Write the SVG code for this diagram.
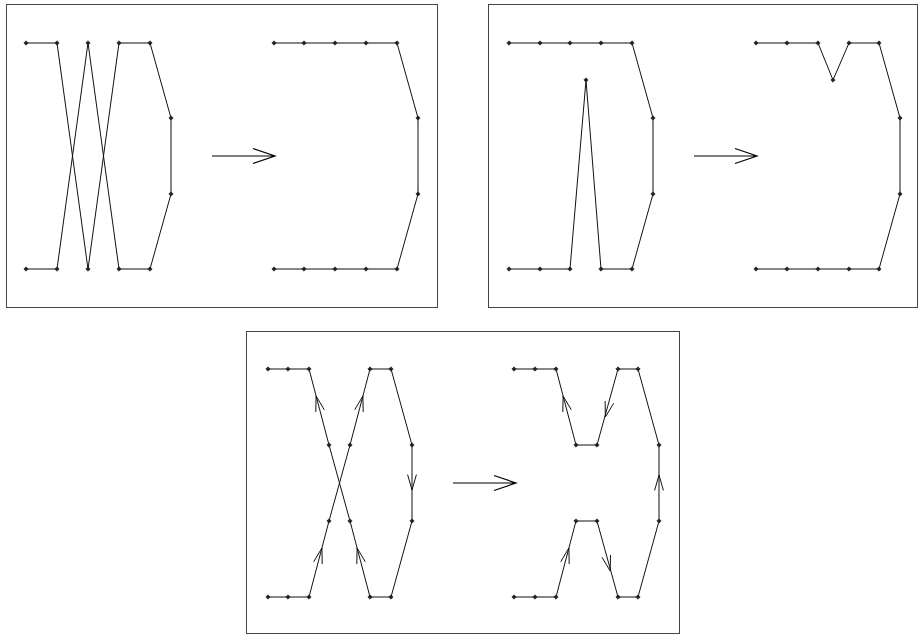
<svg xmlns="http://www.w3.org/2000/svg" xmlns:xlink="http://www.w3.org/1999/xlink" width="921" height="635" viewBox="0 0 921 635">
<style>
.frame{fill:none;stroke:#444;stroke-width:1}
.edge{fill:none;stroke:#111;stroke-width:1;stroke-linejoin:miter}
.head{fill:none;stroke:#111;stroke-width:1}
.big{fill:none;stroke:#000;stroke-width:1.2}
</style>
<defs>
<path id="dot" d="M0,-2.2 L2.2,0 L0,2.2 L-2.2,0Z" fill="#222" stroke="#222" stroke-width="0.6"/>
</defs>
<rect width="921" height="635" fill="#fff"/>
<g id="frames">
<rect class="frame" x="6.5" y="4.5" width="431" height="303"/>
<rect class="frame" x="488.5" y="4.5" width="429" height="303"/>
<rect class="frame" x="246.5" y="331.5" width="433" height="302"/>
</g>
<g id="connectors">
<path class="edge" d="M26,269 L57,269 L88,43 L119,269 L150,269 L171,194 L171,118 L150,43 L119,43 L88,269 L57,43 L26,43"/>
<path class="edge" d="M274,43 L304,43 L335,43 L366,43 L397,43 L418,118 L418,194 L397,269 L366,269 L335,269 L304,269 L274,269"/>
<path class="edge" d="M509,43 L540,43 L570,43 L601,43 L632,43 L653,118 L653,194 L632,269 L601,269 L586,80 L570,269 L540,269 L509,269"/>
<path class="edge" d="M756,43 L787,43 L818,43 L833,80 L849,43 L879,43 L900,118 L900,194 L879,269 L849,269 L818,269 L787,269 L756,269"/>
<path class="edge" d="M268,369 L288,369 L309,369 L329,445 L350,521 L370,597 L391,597 L412,521 L412,445 L391,369 L370,369 L350,445 L329,521 L309,597 L288,597 L268,597"/>
<path class="edge" d="M514,369 L535,369 L556,369 L576,445 L597,445 L618,369 L638,369 L659,445 L659,521 L638,597 L618,597 L597,521 L576,521 L556,597 L535,597 L514,597"/>
<g id="direction-heads">
<polyline class="head" points="315.8,412 316.1,396 324.3,409.8"/>
<polyline class="head" points="354.7,409.8 362.9,396 363.2,412"/>
<polyline class="head" points="407.6,474.6 412,490 416.4,474.6"/>
<polyline class="head" points="313.7,561.8 321.9,548 322.2,564"/>
<polyline class="head" points="356.8,564 357.1,548 365.3,561.8"/>
<polyline class="head" points="562.8,412 563.1,396 571.3,409.8"/>
<polyline class="head" points="613.6,403.3 605.4,417 605.1,401"/>
<polyline class="head" points="654.6,490.4 659,475 663.4,490.4"/>
<polyline class="head" points="560.7,561.8 568.9,548 569.2,564"/>
<polyline class="head" points="610.5,555 610.2,571 602,557.3"/>
</g>
<g id="transform-arrows">
<path class="big" d="M212,156 L275,156 M253,148.5 L275,156 L253,163.5"/>
<path class="big" d="M694,156 L757,156 M735,148.5 L757,156 L735,163.5"/>
<path class="big" d="M453,483 L516,483 M494,475.5 L516,483 L494,490.5"/>
</g>
</g>
<g id="nodes-panel1-left">
<g id="n1-1"><use xlink:href="#dot" x="26" y="43"/></g>
<g id="n1-2"><use xlink:href="#dot" x="57" y="43"/></g>
<g id="n1-3"><use xlink:href="#dot" x="88" y="43"/></g>
<g id="n1-4"><use xlink:href="#dot" x="119" y="43"/></g>
<g id="n1-5"><use xlink:href="#dot" x="150" y="43"/></g>
<g id="n1-6"><use xlink:href="#dot" x="171" y="118"/></g>
<g id="n1-7"><use xlink:href="#dot" x="171" y="194"/></g>
<g id="n1-8"><use xlink:href="#dot" x="150" y="269"/></g>
<g id="n1-9"><use xlink:href="#dot" x="119" y="269"/></g>
<g id="n1-10"><use xlink:href="#dot" x="88" y="269"/></g>
<g id="n1-11"><use xlink:href="#dot" x="57" y="269"/></g>
<g id="n1-12"><use xlink:href="#dot" x="26" y="269"/></g>
</g>
<g id="nodes-panel1-right">
<g id="n2-1"><use xlink:href="#dot" x="274" y="43"/></g>
<g id="n2-2"><use xlink:href="#dot" x="304" y="43"/></g>
<g id="n2-3"><use xlink:href="#dot" x="335" y="43"/></g>
<g id="n2-4"><use xlink:href="#dot" x="366" y="43"/></g>
<g id="n2-5"><use xlink:href="#dot" x="397" y="43"/></g>
<g id="n2-6"><use xlink:href="#dot" x="418" y="118"/></g>
<g id="n2-7"><use xlink:href="#dot" x="418" y="194"/></g>
<g id="n2-8"><use xlink:href="#dot" x="397" y="269"/></g>
<g id="n2-9"><use xlink:href="#dot" x="366" y="269"/></g>
<g id="n2-10"><use xlink:href="#dot" x="335" y="269"/></g>
<g id="n2-11"><use xlink:href="#dot" x="304" y="269"/></g>
<g id="n2-12"><use xlink:href="#dot" x="274" y="269"/></g>
</g>
<g id="nodes-panel2-left">
<g id="n3-1"><use xlink:href="#dot" x="509" y="43"/></g>
<g id="n3-2"><use xlink:href="#dot" x="540" y="43"/></g>
<g id="n3-3"><use xlink:href="#dot" x="570" y="43"/></g>
<g id="n3-4"><use xlink:href="#dot" x="601" y="43"/></g>
<g id="n3-5"><use xlink:href="#dot" x="632" y="43"/></g>
<g id="n3-6"><use xlink:href="#dot" x="653" y="118"/></g>
<g id="n3-7"><use xlink:href="#dot" x="653" y="194"/></g>
<g id="n3-8"><use xlink:href="#dot" x="632" y="269"/></g>
<g id="n3-9"><use xlink:href="#dot" x="601" y="269"/></g>
<g id="n3-10"><use xlink:href="#dot" x="586" y="80"/></g>
<g id="n3-11"><use xlink:href="#dot" x="570" y="269"/></g>
<g id="n3-12"><use xlink:href="#dot" x="540" y="269"/></g>
<g id="n3-13"><use xlink:href="#dot" x="509" y="269"/></g>
</g>
<g id="nodes-panel2-right">
<g id="n4-1"><use xlink:href="#dot" x="756" y="43"/></g>
<g id="n4-2"><use xlink:href="#dot" x="787" y="43"/></g>
<g id="n4-3"><use xlink:href="#dot" x="818" y="43"/></g>
<g id="n4-4"><use xlink:href="#dot" x="833" y="80"/></g>
<g id="n4-5"><use xlink:href="#dot" x="849" y="43"/></g>
<g id="n4-6"><use xlink:href="#dot" x="879" y="43"/></g>
<g id="n4-7"><use xlink:href="#dot" x="900" y="118"/></g>
<g id="n4-8"><use xlink:href="#dot" x="900" y="194"/></g>
<g id="n4-9"><use xlink:href="#dot" x="879" y="269"/></g>
<g id="n4-10"><use xlink:href="#dot" x="849" y="269"/></g>
<g id="n4-11"><use xlink:href="#dot" x="818" y="269"/></g>
<g id="n4-12"><use xlink:href="#dot" x="787" y="269"/></g>
<g id="n4-13"><use xlink:href="#dot" x="756" y="269"/></g>
</g>
<g id="nodes-panel3-left">
<g id="n5-1"><use xlink:href="#dot" x="268" y="369"/></g>
<g id="n5-2"><use xlink:href="#dot" x="288" y="369"/></g>
<g id="n5-3"><use xlink:href="#dot" x="309" y="369"/></g>
<g id="n5-4"><use xlink:href="#dot" x="370" y="369"/></g>
<g id="n5-5"><use xlink:href="#dot" x="391" y="369"/></g>
<g id="n5-6"><use xlink:href="#dot" x="329" y="445"/></g>
<g id="n5-7"><use xlink:href="#dot" x="350" y="445"/></g>
<g id="n5-8"><use xlink:href="#dot" x="412" y="445"/></g>
<g id="n5-9"><use xlink:href="#dot" x="329" y="521"/></g>
<g id="n5-10"><use xlink:href="#dot" x="350" y="521"/></g>
<g id="n5-11"><use xlink:href="#dot" x="412" y="521"/></g>
<g id="n5-12"><use xlink:href="#dot" x="268" y="597"/></g>
<g id="n5-13"><use xlink:href="#dot" x="288" y="597"/></g>
<g id="n5-14"><use xlink:href="#dot" x="309" y="597"/></g>
<g id="n5-15"><use xlink:href="#dot" x="370" y="597"/></g>
<g id="n5-16"><use xlink:href="#dot" x="391" y="597"/></g>
</g>
<g id="nodes-panel3-right">
<g id="n6-1"><use xlink:href="#dot" x="514" y="369"/></g>
<g id="n6-2"><use xlink:href="#dot" x="535" y="369"/></g>
<g id="n6-3"><use xlink:href="#dot" x="556" y="369"/></g>
<g id="n6-4"><use xlink:href="#dot" x="618" y="369"/></g>
<g id="n6-5"><use xlink:href="#dot" x="638" y="369"/></g>
<g id="n6-6"><use xlink:href="#dot" x="576" y="445"/></g>
<g id="n6-7"><use xlink:href="#dot" x="597" y="445"/></g>
<g id="n6-8"><use xlink:href="#dot" x="659" y="445"/></g>
<g id="n6-9"><use xlink:href="#dot" x="576" y="521"/></g>
<g id="n6-10"><use xlink:href="#dot" x="597" y="521"/></g>
<g id="n6-11"><use xlink:href="#dot" x="659" y="521"/></g>
<g id="n6-12"><use xlink:href="#dot" x="514" y="597"/></g>
<g id="n6-13"><use xlink:href="#dot" x="535" y="597"/></g>
<g id="n6-14"><use xlink:href="#dot" x="556" y="597"/></g>
<g id="n6-15"><use xlink:href="#dot" x="618" y="597"/></g>
<g id="n6-16"><use xlink:href="#dot" x="638" y="597"/></g>
</g>
</svg>
